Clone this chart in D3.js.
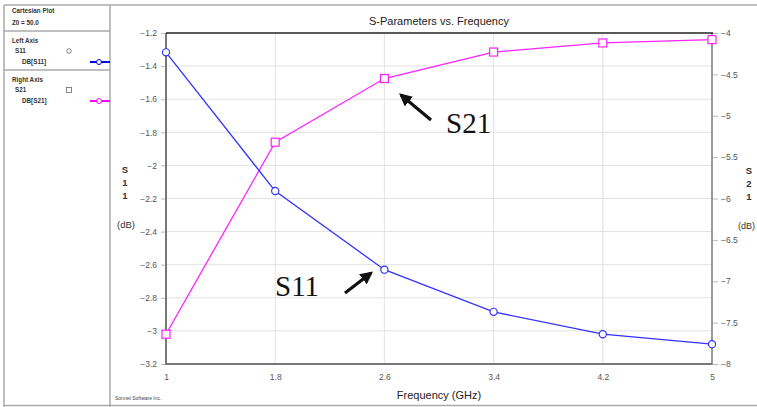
<!DOCTYPE html>
<html><head><meta charset="utf-8">
<script src="https://cdn.jsdelivr.net/npm/d3@7/dist/d3.min.js"></script>
<style>body{margin:0;background:#fff}svg{display:block;font-family:Arial,"Liberation Sans",sans-serif}</style>
</head><body><svg id="c" width="757" height="407"></svg>
<script>
const freq = [1, 1.8, 2.6, 3.4, 4.2, 5];
const s11 = [-1.317, -2.155, -2.63, -2.885, -3.02, -3.08];
const s21 = [-7.64, -5.32, -4.55, -4.23, -4.12, -4.08];
const xTicks = [1, 1.8, 2.6, 3.4, 4.2, 5];
const yLeftTicks = [-1.2, -1.4, -1.6, -1.8, -2, -2.2, -2.4, -2.6, -2.8, -3, -3.2];
const yRightTicks = [-4, -4.5, -5, -5.5, -6, -6.5, -7, -7.5, -8];

const svg = d3.select("#c");
const L = 166, R = 712, T = 33, B = 364;
const x = d3.scaleLinear().domain([1, 5]).range([L, R]);
const yl = d3.scaleLinear().domain([-3.2, -1.2]).range([B, T]);
const yr = d3.scaleLinear().domain([-8, -4]).range([B, T]);
const blue = "#3333ff", mag = "#ff22ff";

// outer frame
svg.append("line").attr("x1",4).attr("x2",757).attr("y1",5).attr("y2",5).attr("stroke","#aaa").attr("stroke-width",1.5);
svg.append("line").attr("x1",4).attr("x2",4).attr("y1",5).attr("y2",407).attr("stroke","#aaa").attr("stroke-width",1.5);
svg.append("line").attr("x1",110).attr("x2",110).attr("y1",5).attr("y2",407).attr("stroke","#aaa").attr("stroke-width",1.5);
svg.append("line").attr("x1",4).attr("x2",757).attr("y1",405.5).attr("y2",405.5).attr("stroke","#aaa").attr("stroke-width",1.5);
svg.append("line").attr("x1",4).attr("x2",110).attr("y1",31).attr("y2",31).attr("stroke","#aaa").attr("stroke-width",1.5);
svg.append("line").attr("x1",4).attr("x2",110).attr("y1",70).attr("y2",70).attr("stroke","#aaa").attr("stroke-width",1.5);

// legend panel
const lg = svg.append("g").attr("font-size",6.3).attr("font-weight","bold").attr("fill","#333");
lg.append("text").attr("x",12).attr("y",13).text("Cartesian Plot");
lg.append("text").attr("x",12).attr("y",25).text("Z0 = 50.0");
lg.append("text").attr("x",12).attr("y",43).text("Left Axis");
lg.append("text").attr("x",15).attr("y",53).text("S11");
lg.append("text").attr("x",22).attr("y",64).text("DB[S11]");
lg.append("text").attr("x",12).attr("y",82).text("Right Axis");
lg.append("text").attr("x",15).attr("y",92).text("S21");
lg.append("text").attr("x",22).attr("y",103).text("DB[S21]");
svg.append("circle").attr("cx",69).attr("cy",51).attr("r",2.3).attr("fill","none").attr("stroke","#666").attr("stroke-width",0.8);
svg.append("rect").attr("x",66.5).attr("y",87.5).attr("width",5).attr("height",5).attr("fill","none").attr("stroke","#666").attr("stroke-width",0.8);
svg.append("line").attr("x1",90).attr("x2",110).attr("y1",62).attr("y2",62).attr("stroke","#0000ee").attr("stroke-width",2);
svg.append("circle").attr("cx",99).attr("cy",62).attr("r",2.5).attr("fill","#fff").attr("stroke","#0000ee").attr("stroke-width",1);
svg.append("line").attr("x1",90).attr("x2",110).attr("y1",101).attr("y2",101).attr("stroke","#ff00ff").attr("stroke-width",2);
svg.append("circle").attr("cx",99).attr("cy",101).attr("r",2.5).attr("fill","#fff").attr("stroke","#ff00ff").attr("stroke-width",1);

// gridlines
const g = svg.append("g");
g.selectAll(".gx").data(xTicks.slice(1,-1)).join("line").attr("x1",d=>x(d)).attr("x2",d=>x(d)).attr("y1",T).attr("y2",B).attr("stroke","#e2e2e2");
g.selectAll(".gy").data(yLeftTicks.slice(1,-1)).join("line").attr("x1",L).attr("x2",R).attr("y1",d=>yl(d)).attr("y2",d=>yl(d)).attr("stroke","#e2e2e2");

// axes
const axL = svg.append("g").attr("transform",`translate(${L},0)`).call(d3.axisLeft(yl).tickValues(yLeftTicks).tickSize(5).tickFormat(d3.format("")));
const axR = svg.append("g").attr("transform",`translate(${R},0)`).call(d3.axisRight(yr).tickValues(yRightTicks).tickSize(6).tickFormat(d3.format("")));
const axB = svg.append("g").attr("transform",`translate(0,${B})`).call(d3.axisBottom(x).tickValues(xTicks).tickSize(0).tickPadding(10).tickFormat(d3.format("")));
[axL,axR,axB].forEach(a=>{a.select(".domain").remove();a.selectAll("text").attr("font-size",8.5).attr("fill","#555").attr("font-family","Arial, Liberation Sans, sans-serif");a.selectAll(".tick line").attr("stroke","#bbb");});
axL.selectAll("text").attr("dx",-1);

// frame
svg.append("line").attr("x1",L).attr("x2",L).attr("y1",T).attr("y2",B+1).attr("stroke","#777").attr("stroke-width",2);
svg.append("line").attr("x1",R).attr("x2",R).attr("y1",T).attr("y2",B+1).attr("stroke","#999").attr("stroke-width",2);
svg.append("line").attr("x1",L).attr("x2",R).attr("y1",B).attr("y2",B).attr("stroke","#777").attr("stroke-width",2);
svg.append("line").attr("x1",L).attr("x2",R+1).attr("y1",T).attr("y2",T).attr("stroke","#222").attr("stroke-width",1.5);

// series
const lineL = d3.line().x((d,i)=>x(freq[i])).y(d=>yl(d));
const lineR = d3.line().x((d,i)=>x(freq[i])).y(d=>yr(d));
svg.append("path").attr("d",lineR(s21)).attr("fill","none").attr("stroke",mag).attr("stroke-width",1.3);
svg.append("path").attr("d",lineL(s11)).attr("fill","none").attr("stroke",blue).attr("stroke-width",1.3);
svg.selectAll(".m21").data(s21).join("rect").attr("x",(d,i)=>x(freq[i])-4).attr("y",d=>yr(d)-4).attr("width",8).attr("height",8).attr("fill","#fff").attr("stroke",mag).attr("stroke-width",1.2);
svg.selectAll(".m11").data(s11).join("circle").attr("cx",(d,i)=>x(freq[i])).attr("cy",d=>yl(d)).attr("r",3.6).attr("fill","#fff").attr("stroke",blue).attr("stroke-width",1.2);

// titles
svg.append("text").attr("x",439).attr("y",25).attr("text-anchor","middle").attr("font-size",11).attr("fill","#222").text("S-Parameters vs. Frequency");
svg.append("text").attr("x",439).attr("y",399).attr("text-anchor","middle").attr("font-size",11).attr("fill","#222").text("Frequency (GHz)");
svg.append("text").attr("x",115).attr("y",400).attr("font-size",5).attr("fill","#444").text("Sonnet Software Inc.");
const ylab = svg.append("text").attr("font-size",9.5).attr("font-weight","bold").attr("fill","#333").attr("text-anchor","middle");
[["S",173],["1",186],["1",199]].forEach(([t,yy])=>ylab.append("tspan").attr("x",125).attr("y",yy).text(t));
svg.append("text").attr("x",126).attr("y",228).attr("font-size",9.5).attr("fill","#333").attr("text-anchor","middle").text("(dB)");
const yrlab = svg.append("text").attr("font-size",9.5).attr("font-weight","bold").attr("fill","#333").attr("text-anchor","middle");
[["S",174],["2",187],["1",200]].forEach(([t,yy])=>yrlab.append("tspan").attr("x",749).attr("y",yy).text(t));
svg.append("text").attr("x",755).attr("y",229).attr("font-size",9).attr("fill","#333").attr("text-anchor","end").text("(dB)");

// annotations
svg.append("text").attr("x",446).attr("y",133).attr("font-family","Liberation Serif, Times New Roman, serif").attr("font-size",29).attr("fill","#111").text("S21");
svg.append("text").attr("x",275).attr("y",296).attr("font-family","Liberation Serif, Times New Roman, serif").attr("font-size",29).attr("fill","#111").text("S11");
svg.append("defs").append("marker").attr("id","ah").attr("viewBox","0 0 10 10").attr("refX",8).attr("refY",5).attr("markerWidth",4).attr("markerHeight",4).attr("orient","auto").append("path").attr("d","M0,0L10,5L0,10z").attr("fill","#111");
svg.append("line").attr("x1",431).attr("y1",120).attr("x2",401).attr("y2",95).attr("stroke","#111").attr("stroke-width",3.2).attr("marker-end","url(#ah)");
svg.append("line").attr("x1",345).attr("y1",293).attr("x2",371).attr("y2",273).attr("stroke","#111").attr("stroke-width",3.2).attr("marker-end","url(#ah)");
</script></body></html>
